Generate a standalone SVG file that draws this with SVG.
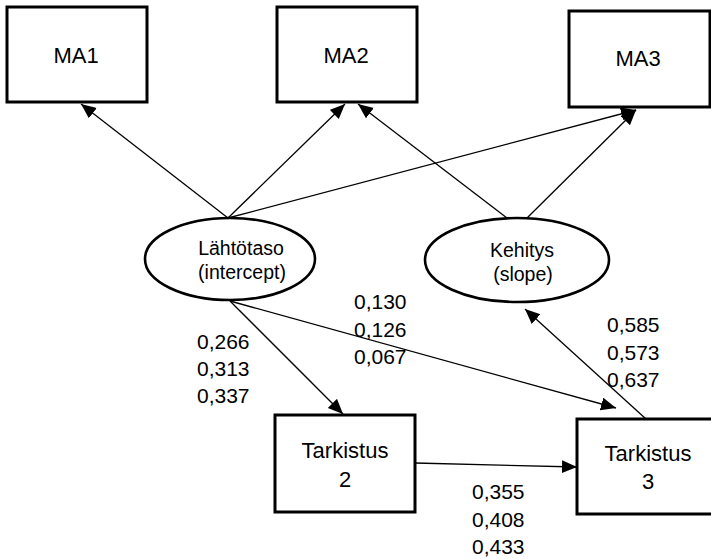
<svg xmlns="http://www.w3.org/2000/svg" width="711" height="559" viewBox="0 0 711 559">
  <style>
    .box { fill: #ffffff; stroke: #000000; stroke-width: 3; }
    .ell { fill: #ffffff; stroke: #000000; stroke-width: 2.6; }
    .edge { fill: none; stroke: #000000; stroke-width: 1.3; marker-end: url(#arrow); }
    text { font-family: "Liberation Sans", Arial, sans-serif; fill: #000000; text-anchor: middle; }
    .lbl { font-size: 22px; }
    .lat { font-size: 19.5px; }
    .num { font-size: 21px; text-anchor: start; }
  </style>
  <defs>
    <marker id="arrow" markerUnits="userSpaceOnUse" markerWidth="16" markerHeight="14" refX="15" refY="6.5" orient="auto">
      <path d="M0,0 L15,6.5 L0,13 z" fill="#000000"/>
    </marker>
  </defs>

  <rect width="711" height="559" fill="#ffffff"/>

  <!-- connectors -->
  <g id="connectors">
    <line class="edge" x1="228" y1="218" x2="81" y2="104"/>
    <line class="edge" x1="228" y1="218" x2="345" y2="104"/>
    <line class="edge" x1="228" y1="218" x2="636" y2="110"/>
    <line class="edge" x1="507" y1="218" x2="358" y2="104"/>
    <line class="edge" x1="527" y1="218" x2="636" y2="110"/>
    <line class="edge" x1="230" y1="301" x2="343" y2="414"/>
    <line class="edge" x1="230" y1="301" x2="616" y2="408"/>
    <line class="edge" x1="415" y1="463" x2="577" y2="467"/>
    <line class="edge" x1="646" y1="419" x2="525" y2="309"/>
  </g>

  <!-- observed measures -->
  <g id="MA1">
    <rect class="box" x="7" y="7" width="140" height="95"/>
    <text class="lbl" x="76" y="63">MA1</text>
  </g>
  <g id="MA2">
    <rect class="box" x="277" y="7" width="140" height="95"/>
    <text class="lbl" x="346" y="63">MA2</text>
  </g>
  <g id="MA3">
    <rect class="box" x="569" y="11" width="141" height="96"/>
    <text class="lbl" x="638" y="66">MA3</text>
  </g>

  <!-- latent factors -->
  <g id="Lahtotaso">
    <ellipse class="ell" cx="230" cy="259" rx="85" ry="41"/>
    <text class="lat" x="241" y="255">Lähtötaso</text>
    <text class="lat" x="242" y="279">(intercept)</text>
  </g>
  <g id="Kehitys">
    <ellipse class="ell" cx="517" cy="260" rx="92" ry="42"/>
    <text class="lat" x="522" y="257">Kehitys</text>
    <text class="lat" x="523" y="281">(slope)</text>
  </g>

  <!-- covariates -->
  <g id="Tarkistus2">
    <rect class="box" x="275" y="415" width="140" height="97"/>
    <text class="lbl" x="345" y="458">Tarkistus</text>
    <text class="lbl" x="345" y="487">2</text>
  </g>
  <g id="Tarkistus3">
    <rect class="box" x="577" y="419" width="140" height="95"/>
    <text class="lbl" x="648" y="461">Tarkistus</text>
    <text class="lbl" x="648" y="489">3</text>
  </g>

  <!-- path coefficients -->
  <g id="coefficients">
    <text class="num" x="197" y="349">0,266</text>
    <text class="num" x="197" y="376">0,313</text>
    <text class="num" x="197" y="403">0,337</text>
    <text class="num" x="354" y="309">0,130</text>
    <text class="num" x="354" y="337">0,126</text>
    <text class="num" x="354" y="364">0,067</text>
    <text class="num" x="607" y="332">0,585</text>
    <text class="num" x="607" y="360">0,573</text>
    <text class="num" x="607" y="387">0,637</text>
    <text class="num" x="472" y="499">0,355</text>
    <text class="num" x="472" y="527">0,408</text>
    <text class="num" x="472" y="554">0,433</text>
  </g>
</svg>
